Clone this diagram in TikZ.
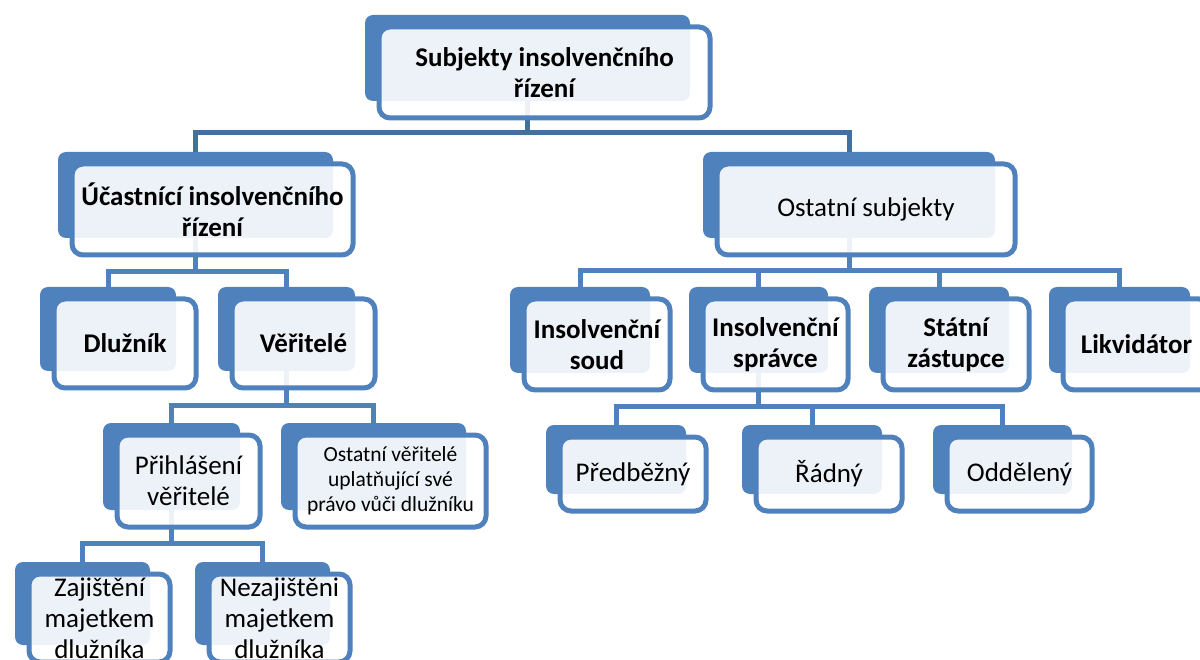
\documentclass[tikz,border=0pt]{standalone}
\usepackage{fontspec}
\setmainfont{Carlito}
\usetikzlibrary{backgrounds}
\definecolor{sablue}{HTML}{4F81BD}
\definecolor{sadark}{HTML}{41719C}
\tikzset{
  backbox/.style={fill=sablue,draw=none,rounded corners=8pt,inner sep=0pt,outer sep=0pt},
  frontbox/.style={draw=sablue,line width=5pt,fill=white,fill opacity=0.9,text opacity=1,
    rounded corners=11pt,inner sep=0pt,outer sep=0pt,align=center,
    font=\fontsize{27}{31}\selectfont},
  boldtxt/.style={font=\fontsize{27}{31}\selectfont\bfseries},
  smalltxt/.style={font=\fontsize{21.5}{25}\selectfont},
  conn/.style={draw=sablue,line width=5pt},
  conntop/.style={draw=sadark,line width=5pt}
}
\newcommand\mkbox[7]{%
  \pgfmathsetmacro\fcx{(#2+#4)/2}\pgfmathsetmacro\fcy{(#3+#5)/2}%
  \pgfmathsetmacro\fw{#4-#2}\pgfmathsetmacro\fh{#5-#3}%
  \pgfmathsetmacro\bcx{(#2-14+#4-20)/2}\pgfmathsetmacro\bcy{(#3-12+#5-17)/2}%
  \pgfmathsetmacro\bw{\fw-6}\pgfmathsetmacro\bh{\fh-5}%
  \node[backbox,minimum width=\bw pt,minimum height=\bh pt] (b-#1) at (\bcx pt,-\bcy pt) {};
  \node[frontbox,#6,minimum width=\fw pt,minimum height=\fh pt] (#1) at (\fcx pt,-\fcy pt) {#7};
}
\begin{document}
\begin{tikzpicture}[x=1pt,y=-1pt]
\useasboundingbox (0,0) rectangle (1200,660);
\mkbox{top}{379}{27}{710}{118}{boldtxt}{Subjekty insolvenčního\\řízení}
\mkbox{ucast}{72}{164}{353}{255}{boldtxt}{Účastnící insolvenčního\\řízení}
\mkbox{ostat}{717}{164}{1015}{255}{}{Ostatní subjekty}
\mkbox{dluz}{54}{299}{196}{388}{boldtxt}{Dlužník}
\mkbox{veri}{232}{299}{375}{388}{boldtxt}{Věřitelé}
\mkbox{prih}{117}{435}{260}{527}{}{Přihlášení\\věřitelé}
\mkbox{ostver}{295}{435}{486}{527}{smalltxt}{Ostatní věřitelé\\uplatňující své\\právo vůči dlužníku}
\mkbox{zaj}{29}{574}{170}{662}{}{Zajištění\\majetkem\\dlužníka}
\mkbox{nezaj}{209}{574}{350}{662}{}{Nezajištěni\\majetkem\\dlužníka}
\mkbox{isoud}{524}{299}{670}{390}{boldtxt}{Insolvenční\\soud}
\mkbox{ispr}{703}{299}{848}{390}{boldtxt}{Insolvenční\\správce}
\mkbox{stat}{883}{299}{1029}{390}{boldtxt}{Státní\\zástupce}
\mkbox{likv}{1063}{299}{1210}{390}{boldtxt}{Likvidátor}
\mkbox{pred}{560}{437}{706}{511}{}{Předběžný}
\mkbox{radny}{756}{437}{902}{511}{}{Řádný}
\mkbox{odd}{947}{437}{1092}{511}{}{Oddělený}
\coordinate (bar1) at (0,133);
\coordinate (bar2) at (0,272);
\coordinate (bar3) at (0,271);
\coordinate (bar4) at (0,405);
\coordinate (bar5) at (0,543);
\coordinate (bar6) at (0,406);
\begin{scope}[on background layer]
  \draw[conntop] (b-top.center) -- (b-top.center |- bar1) -| (b-ucast.north);
  \draw[conntop] (b-top.center |- bar1) -| (b-ostat.north);
  \draw[conn] (b-ucast.center) -- (b-ucast.center |- bar2) -| (b-dluz.north);
  \draw[conn] (b-ucast.center |- bar2) -| (b-veri.north);
  \draw[conn] (b-ostat.center) -- (b-ostat.center |- bar3) -| (b-isoud.north);
  \draw[conn] (b-ostat.center |- bar3) -| (b-ispr.north);
  \draw[conn] (b-ostat.center |- bar3) -| (b-stat.north);
  \draw[conn] (b-ostat.center |- bar3) -| (b-likv.north);
  \draw[conn] (b-veri.center) -- (b-veri.center |- bar4) -| (b-prih.north);
  \draw[conn] (b-veri.center |- bar4) -| (b-ostver.north);
  \draw[conn] (b-prih.center) -- (b-prih.center |- bar5) -| (b-zaj.north);
  \draw[conn] (b-prih.center |- bar5) -| (b-nezaj.north);
  \draw[conn] (b-ispr.center) -- (b-ispr.center |- bar6) -| (b-pred.north);
  \draw[conn] (b-ispr.center |- bar6) -| (b-radny.north);
  \draw[conn] (b-ispr.center |- bar6) -| (b-odd.north);
\end{scope}
\end{tikzpicture}
\end{document}
